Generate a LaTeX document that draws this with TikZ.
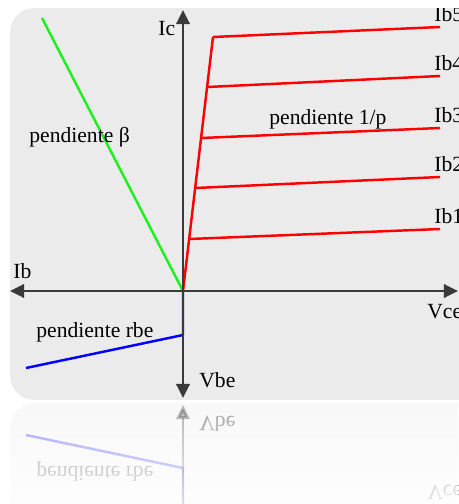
\documentclass[tikz,border=0pt]{standalone}
\usepackage{fontspec}
\setmainfont{Liberation Serif}
\usetikzlibrary{arrows.meta,calc,fadings}
\definecolor{Panel}{HTML}{EBEBEB}
\definecolor{Axis}{HTML}{3A3A3A}
\definecolor{Beta}{HTML}{1EF01E}
\tikzset{
 ax/.style={{Triangle[length=8pt,width=7.5pt]}-{Triangle[length=8pt,width=7.5pt]},draw=Axis,line width=1.7pt},
 curve/.style={line width=1.4pt,line join=round},
 lbl/.style={font=\fontsize{12.3}{14}\selectfont,inner sep=0pt}
}
% everything that is mirrored below the panel
\newcommand\curvasbjt{%
 \begin{scope}
 \clip[rounded corners=14pt] (10,8) rectangle (490,400);
 \fill[Panel] (10,8) rectangle (490,400);
 \coordinate (O) at (183,291);
 \coordinate (T) at (213,37);
 \coordinate (IcTip) at (183,10);
 \coordinate (VbeTip) at (183,398);
 \coordinate (IbTip) at (10,291);
 \coordinate (VceTip) at (458,291);
 % base-emitter and beta lines
 \draw[curve,Beta] (42,18) -- (O);
 \draw[curve,blue] (O) -- (183,335) -- (26,368);
 % output curves
 \draw[curve,red] (O) -- (T);
 \foreach \ys/\ye/\n in {239/229/1,188/177/2,138/128/3,87/76/4,37/27/5}{
   \draw[curve,red] ($(O)!{(291-\ys)/254}!(T)$) -- (440,\ye);
   \node[lbl,anchor=base west] (ib\n) at (434,\ye-6) {Ib\n};
 }
 \draw[ax] (VbeTip) -- (IcTip);
 \draw[ax] (IbTip) -- (VceTip);
 \node[lbl,anchor=base west] (ic) at (158,35) {Ic};
 \node[lbl,anchor=base west] (ib) at (13,278) {Ib};
 \node[lbl,anchor=base west] (vce) at (427,318) {Vce};
 \node[lbl,anchor=base west] (vbe) at (199,387) {Vbe};
 \node[lbl,anchor=base west] (beta) at (29,142) {pendiente β};
 \node[lbl,anchor=base west] (ro) at (269,124) {pendiente 1/p};
 \node[lbl,anchor=base west] (rbe) at (36,337) {pendiente rbe};
 \end{scope}}

\begin{document}
\begin{tikzpicture}[x=0.02cm,y=-0.02cm]
\useasboundingbox (0,0) rectangle (458,504);
\curvasbjt
% reflection
\begin{scope}
 \clip (0,401.5) rectangle (458,504);
 \begin{scope}[shift={(0,803)},yscale=-1,transform shape,opacity=0.35]
  \curvasbjt
 \end{scope}
 \fill[white,path fading=north,opacity=0.75] (0,401.5) rectangle (458,504);
\end{scope}
\end{tikzpicture}
\end{document}
